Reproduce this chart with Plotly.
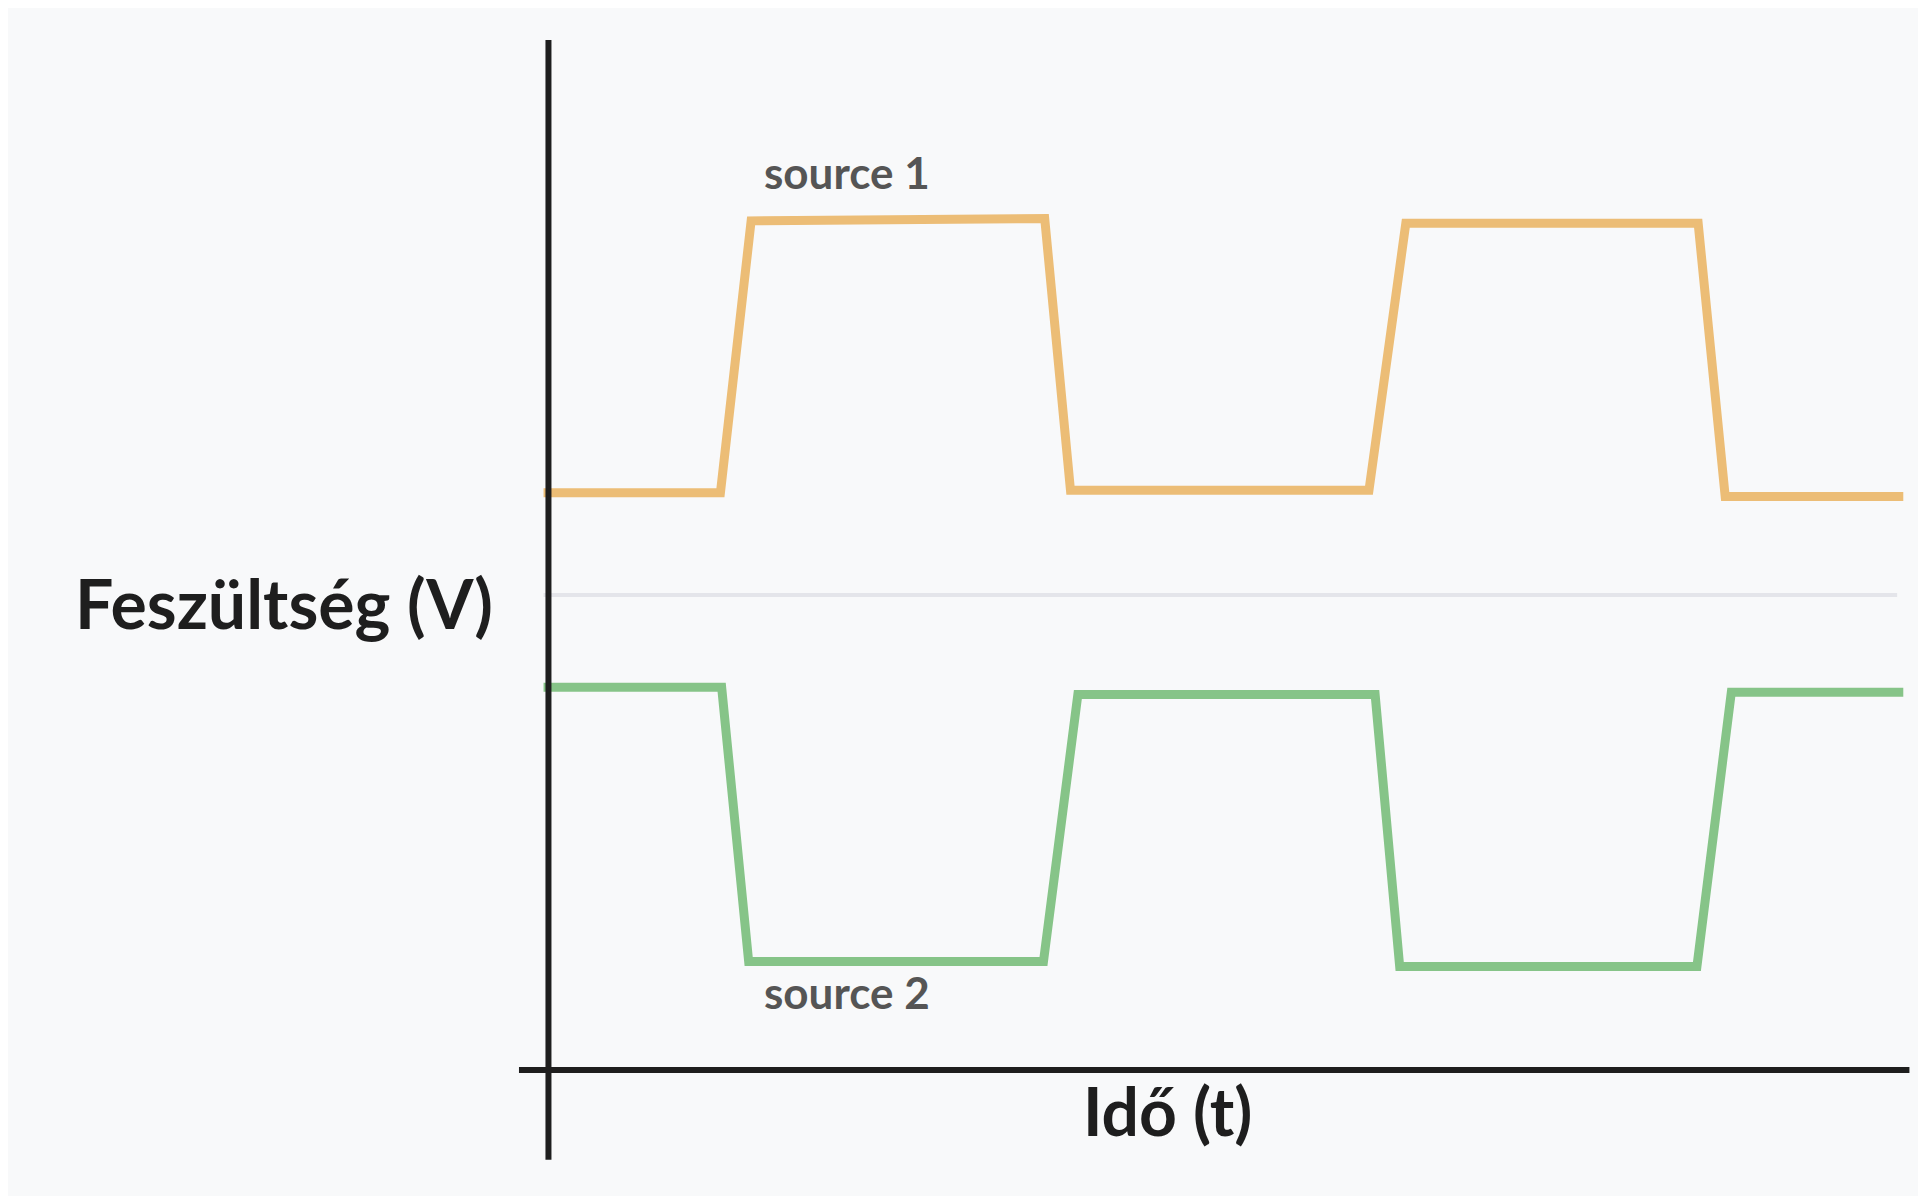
import plotly.graph_objects as go

# Values (reference pixel units: time to the right, voltage up = smaller value)
t1 = [443, 587, 612, 851, 872, 1115, 1145, 1383, 1405, 1550]
v1 = [401, 401, 180, 178, 399, 399, 182, 182, 404, 404]
t2 = [443, 588, 610, 850, 878, 1120, 1140, 1382, 1410, 1550]
v2 = [559, 559, 782, 782, 565, 565, 786, 786, 563, 563]
mid_t = [443, 1545]
mid_v = [484, 484]

fig = go.Figure()
fig.add_trace(go.Scatter(x=mid_t, y=mid_v, mode="lines", line=dict(color="#e4e5ea", width=4), hoverinfo="skip"))
fig.add_trace(go.Scatter(x=t1, y=v1, mode="lines", line=dict(color="#ecbd76", width=9), name="source 1"))
fig.add_trace(go.Scatter(x=t2, y=v2, mode="lines", line=dict(color="#86c488", width=9), name="source 2"))

# axes lines
fig.add_shape(type="line", x0=447, x1=447, y0=33, y1=943, line=dict(color="#1e1e1e", width=6))
fig.add_shape(type="line", x0=423, x1=1555, y0=870, y1=870, line=dict(color="#1e1e1e", width=6))

font = "Lato, 'Open Sans', sans-serif"
fig.add_annotation(x=690, y=140, text="<b>source 1</b>", showarrow=False, font=dict(family=font, size=44, color="#555555"))
fig.add_annotation(x=690, y=807, text="<b>source 2</b>", showarrow=False, font=dict(family=font, size=44, color="#555555"))
fig.add_annotation(x=232, y=490, text="<b>Feszültség (V)</b>", showarrow=False, font=dict(family=font, size=68, color="#1e1e1e"))
fig.add_annotation(x=951, y=903, text="<b>Idő (t)</b>", showarrow=False, font=dict(family=font, size=66, color="#1e1e1e"))

fig.update_layout(
    width=1926, height=1196, showlegend=False,
    margin=dict(l=0, r=0, t=0, b=0),
    paper_bgcolor="#f8f9fa", plot_bgcolor="#f8f9fa",
    xaxis=dict(range=[7, 1575], visible=False, fixedrange=True),
    yaxis=dict(range=[979, 7], visible=False, fixedrange=True),
)
fig.write_html("out.html")
